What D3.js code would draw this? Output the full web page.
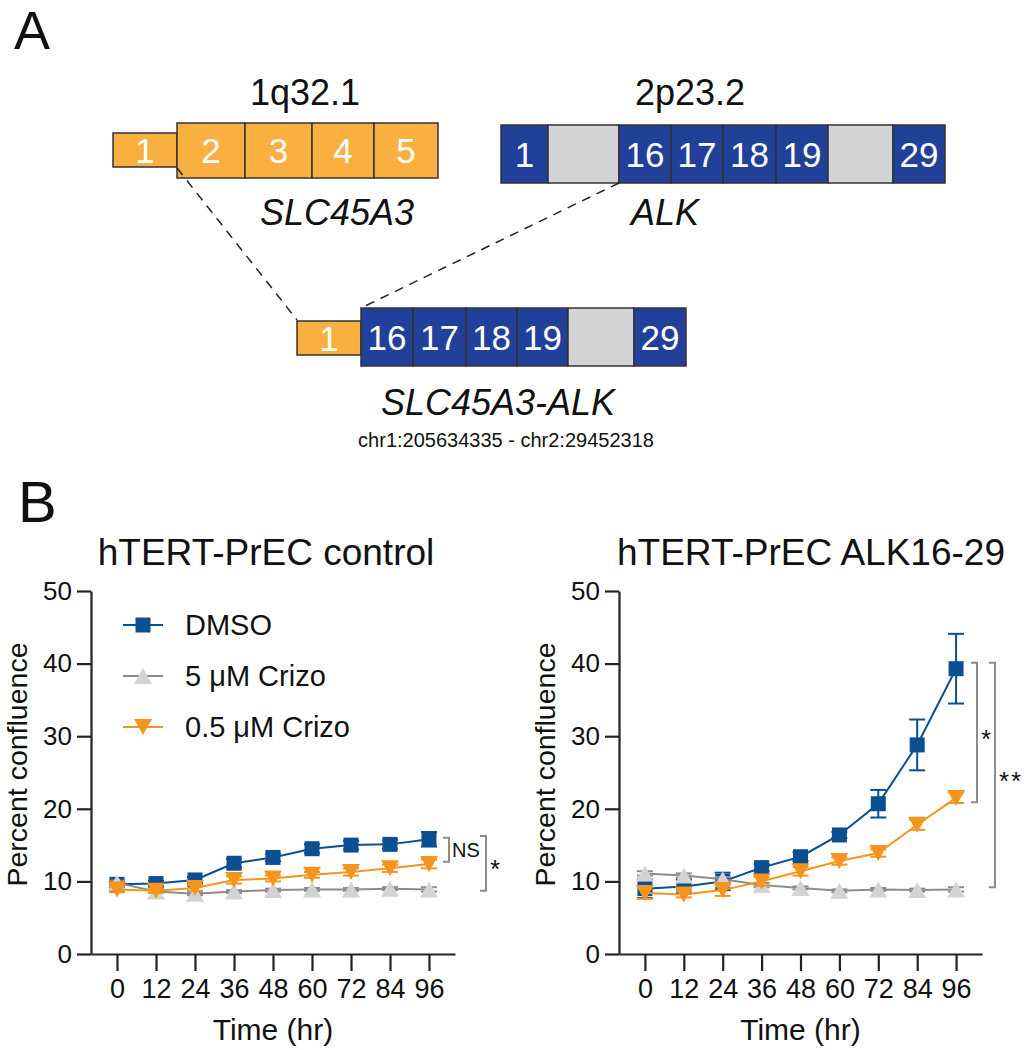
<!DOCTYPE html>
<html>
<head>
<meta charset="utf-8">
<script src="https://cdn.jsdelivr.net/npm/d3@7"></script>
<style>
  html, body { margin: 0; padding: 0; background: #fff; }
  svg text { font-family: "Liberation Sans", Arial, Helvetica, sans-serif; }
</style>
</head>
<body>
<svg id="fig" width="1024" height="1050"></svg>
<script>
// ---- datos ----
const horas = [0, 12, 24, 36, 48, 60, 72, 84, 96];
const ticksY = [0, 10, 20, 30, 40, 50];
const series = ["DMSO", "5 \u03BCM Crizo", "0.5 \u03BCM Crizo"];

// hTERT-PrEC control
const dmsoCtrl = [9.6, 9.7, 10.2, 12.5, 13.3, 14.5, 15.0, 15.1, 15.8];
const dmsoCtrlErr = [0.5, 0.4, 0.4, 0.6, 0.5, 0.6, 0.6, 0.6, 1.0];
const crizo5Ctrl = [9.8, 8.6, 8.3, 8.6, 8.8, 8.9, 8.9, 9.0, 8.9];
const crizo5CtrlErr = [0.3, 0.2, 0.2, 0.2, 0.2, 0.2, 0.2, 0.2, 0.3];
const crizo05Ctrl = [8.9, 8.7, 9.1, 10.2, 10.4, 10.9, 11.3, 11.8, 12.4];
const crizo05CtrlErr = [0.4, 0.3, 0.4, 0.5, 0.4, 0.4, 0.5, 0.5, 0.6];

// hTERT-PrEC ALK16-29
const dmsoAlk = [9.0, 9.3, 10.0, 11.9, 13.4, 16.4, 20.7, 28.8, 39.3];
const dmsoAlkErr = [1.3, 1.0, 1.2, 0.5, 0.6, 0.4, 1.9, 3.5, 4.8];
const crizo5Alk = [11.1, 10.8, 10.3, 9.5, 9.1, 8.7, 8.9, 8.8, 8.9];
const crizo5AlkErr = [0.3, 0.3, 0.3, 0.3, 0.2, 0.2, 0.2, 0.2, 0.3];
const crizo05Alk = [8.4, 8.2, 8.8, 10.0, 11.4, 12.8, 13.9, 17.8, 21.5];
const crizo05AlkErr = [0.8, 0.4, 0.8, 0.6, 0.6, 0.5, 0.5, 0.7, 0.7];

// significancia: [desde, hasta, etiqueta]
const sigCtrl = [[16.0, 12.7, "NS"], [16.25, 8.7, "*"]];
const sigAlk = [[40.1, 20.9, "*"], [40.1, 9.2, "**"]];

// exones
const exonesSlc = ["1", "2", "3", "4", "5"];
const exonesAlk = ["1", "", "16", "17", "18", "19", "", "29"];
const exonesFusion = ["1", "16", "17", "18", "19", "", "29"];

// ---- estilos ----
const colores = {
    dmso: "#0b4f93",
    gris: "#8c8c8c",
    grisClaro: "#d3d3d3",
    naranja: "#f7941d",
    exonNaranja: "#f9b040",
    exonAzul: "#21409a",
    exonGris: "#d1d3d4",
    borde: "#333"
};

const svg = d3.select("#fig");

// ---- panel A ----
const gA = svg.append("g");

gA.append("text").attr("x", 14).attr("y", 49)
    .attr("font-size", 54).attr("fill", "#111").text("A");

function dibujarGen(bordes, etiquetas, tipos, y0, y1, altos) {
    etiquetas.forEach((lab, i) => {
        const alto = altos ? altos[i] : [y0, y1];
        gA.append("rect")
            .attr("x", bordes[i]).attr("y", alto[0])
            .attr("width", bordes[i + 1] - bordes[i])
            .attr("height", alto[1] - alto[0])
            .attr("fill", colores[tipos[i]])
            .attr("stroke", colores.borde)
            .attr("stroke-width", 1.5);
        if (lab) {
            gA.append("text")
                .attr("x", (bordes[i] + bordes[i + 1]) / 2)
                .attr("y", (alto[0] + alto[1]) / 2 + 12.5)
                .attr("text-anchor", "middle")
                .attr("font-size", 35)
                .attr("fill", "#fff")
                .text(lab);
        }
    });
}

// SLC45A3
dibujarGen([113, 177, 245, 312, 374, 438], exonesSlc,
    ["exonNaranja", "exonNaranja", "exonNaranja", "exonNaranja", "exonNaranja"],
    123, 178, [[133, 167], [123, 178], [123, 178], [123, 178], [123, 178]]);

// ALK
dibujarGen([501, 548, 619, 671, 723, 776, 828, 893, 945], exonesAlk,
    ["exonAzul", "exonGris", "exonAzul", "exonAzul", "exonAzul", "exonAzul", "exonGris", "exonAzul"],
    125, 183);

// fusion
dibujarGen([297, 361, 413, 466, 517, 568, 634, 686], exonesFusion,
    ["exonNaranja", "exonAzul", "exonAzul", "exonAzul", "exonAzul", "exonGris", "exonAzul"],
    308, 366, [[321, 355], [308, 366], [308, 366], [308, 366], [308, 366], [308, 366], [308, 366]]);

// lineas punteadas
[[177, 168, 297, 320], [619, 183, 361, 308]].forEach(l => {
    gA.append("line")
        .attr("x1", l[0]).attr("y1", l[1]).attr("x2", l[2]).attr("y2", l[3])
        .attr("stroke", "#222").attr("stroke-width", 1.5)
        .attr("stroke-dasharray", "9,7");
});

const textosA = [
    [305, 105, "1q32.1", "normal", 36],
    [690, 105, "2p23.2", "normal", 36],
    [337, 225, "SLC45A3", "italic", 36],
    [665, 225, "ALK", "italic", 36],
    [498, 415, "SLC45A3-ALK", "italic", 36],
    [506, 447, "chr1:205634335 - chr2:29452318", "normal", 20]
];
textosA.forEach(t => {
    gA.append("text")
        .attr("x", t[0]).attr("y", t[1])
        .attr("text-anchor", "middle")
        .attr("font-style", t[3])
        .attr("font-size", t[4])
        .attr("fill", "#111")
        .text(t[2]);
});

// ---- panel B ----
svg.append("text").attr("x", 18).attr("y", 522)
    .attr("font-size", 58).attr("fill", "#111").text("B");

const yTop = 591, yBase = 954;

function simbolo(tipo) {
    if (tipo === "cuadrado") return "M-7.5,-7.5H7.5V7.5H-7.5Z";
    if (tipo === "arriba") return "M0,-8L9,8L-9,8Z";
    return "M0,8L9,-8L-9,-8Z";
}

function dibujarPanel(cfg) {
    const g = svg.append("g");

    const x = d3.scaleLinear().domain([-8, 104]).range([cfg.x0, cfg.x1]);
    const y = d3.scaleLinear().domain([0, 50]).range([yBase, yTop]);

    // ejes
    const ejeY = g.append("g")
        .attr("transform", `translate(${cfg.x0},0)`)
        .call(d3.axisLeft(y).tickValues(ticksY).tickSize(14).tickPadding(5).tickSizeOuter(0));
    const ejeX = g.append("g")
        .attr("transform", `translate(0,${yBase})`)
        .call(d3.axisBottom(x).tickValues(horas).tickSize(17).tickPadding(8).tickSizeOuter(0));

    [ejeY, ejeX].forEach(e => {
        e.select(".domain").attr("stroke", "#222").attr("stroke-width", 2.2);
        e.selectAll(".tick line").attr("stroke", "#222").attr("stroke-width", 2.2);
        e.selectAll(".tick text").attr("fill", "#111")
            .style("font-family", "'Liberation Sans', Arial, sans-serif");
    });
    ejeY.selectAll(".tick text").attr("font-size", 26);
    ejeX.selectAll(".tick text").attr("font-size", 27);

    // titulos
    g.append("text")
        .attr("x", cfg.tituloX).attr("y", 565)
        .attr("text-anchor", "middle").attr("font-size", 37).attr("fill", "#111")
        .text(cfg.titulo);
    g.append("text")
        .attr("x", (cfg.x0 + cfg.x1) / 2).attr("y", 1040)
        .attr("text-anchor", "middle").attr("font-size", 30).attr("fill", "#111")
        .text("Time (hr)");
    g.append("text")
        .attr("transform", `translate(${cfg.x0 - 64},${(yTop + yBase) / 2 - 8}) rotate(-90)`)
        .attr("text-anchor", "middle").attr("font-size", 28.5).attr("fill", "#111")
        .text("Percent confluence");

    const linea = d3.line().x((d, i) => x(horas[i])).y(d => y(d));

    cfg.datos.forEach(s => {
        const gs = g.append("g");
        // barras de error
        s.valores.forEach((v, i) => {
            const cx = x(horas[i]);
            const e = s.err[i];
            gs.append("line")
                .attr("x1", cx).attr("x2", cx)
                .attr("y1", y(v - e)).attr("y2", y(v + e))
                .attr("stroke", s.linea).attr("stroke-width", 2);
            [v - e, v + e].forEach(w => {
                gs.append("line")
                    .attr("x1", cx - 8).attr("x2", cx + 8)
                    .attr("y1", y(w)).attr("y2", y(w))
                    .attr("stroke", s.linea).attr("stroke-width", 2);
            });
        });
        gs.append("path")
            .datum(s.valores)
            .attr("d", linea)
            .attr("fill", "none")
            .attr("stroke", s.linea)
            .attr("stroke-width", 2);
        gs.selectAll("path.marca")
            .data(s.valores)
            .join("path")
            .attr("class", "marca")
            .attr("transform", (d, i) => `translate(${x(horas[i])},${y(d)})`)
            .attr("d", simbolo(s.simbolo))
            .attr("fill", s.relleno);
    });

    // corchetes de significancia
    cfg.sig.forEach((b, k) => {
        const bx = cfg.corcheteX[k];
        g.append("path")
            .attr("d", `M${bx - 6},${y(b[0])}H${bx}V${y(b[1])}H${bx - 6}`)
            .attr("fill", "none")
            .attr("stroke", colores.gris)
            .attr("stroke-width", 2);
        const medio = (y(b[0]) + y(b[1])) / 2;
        if (b[2] === "NS") {
            g.append("text").attr("x", bx + 3).attr("y", medio + 7)
                .attr("font-size", 20).attr("fill", "#111").text(b[2]);
        } else {
            g.append("text").attr("x", bx + 4).attr("y", medio + 15)
                .attr("font-size", 26).attr("fill", "#111")
                .attr("letter-spacing", 2)
                .text(b[2]);
        }
    });

    return { x, y, g };
}

const izq = dibujarPanel({
    x0: 91, x1: 455, tituloX: 266,
    titulo: "hTERT-PrEC control",
    datos: [
        { valores: dmsoCtrl, err: dmsoCtrlErr, linea: colores.dmso, relleno: colores.dmso, simbolo: "cuadrado" },
        { valores: crizo5Ctrl, err: crizo5CtrlErr, linea: colores.gris, relleno: colores.grisClaro, simbolo: "arriba" },
        { valores: crizo05Ctrl, err: crizo05CtrlErr, linea: colores.naranja, relleno: colores.naranja, simbolo: "abajo" }
    ],
    sig: sigCtrl,
    corcheteX: [449, 486]
});

dibujarPanel({
    x0: 619, x1: 982, tituloX: 811,
    titulo: "hTERT-PrEC ALK16-29",
    datos: [
        { valores: dmsoAlk, err: dmsoAlkErr, linea: colores.dmso, relleno: colores.dmso, simbolo: "cuadrado" },
        { valores: crizo5Alk, err: crizo5AlkErr, linea: colores.gris, relleno: colores.grisClaro, simbolo: "arriba" },
        { valores: crizo05Alk, err: crizo05AlkErr, linea: colores.naranja, relleno: colores.naranja, simbolo: "abajo" }
    ],
    sig: sigAlk,
    corcheteX: [977, 995]
});

// leyenda
const leyenda = izq.g.append("g");
const estilosLeyenda = [
    [colores.dmso, colores.dmso, "cuadrado"],
    [colores.gris, colores.grisClaro, "arriba"],
    [colores.naranja, colores.naranja, "abajo"]
];
series.forEach((nombre, i) => {
    const fy = 625 + i * 51;
    leyenda.append("line")
        .attr("x1", 123).attr("x2", 163).attr("y1", fy).attr("y2", fy)
        .attr("stroke", estilosLeyenda[i][0]).attr("stroke-width", 2);
    leyenda.append("path")
        .attr("transform", `translate(143,${fy})`)
        .attr("d", simbolo(estilosLeyenda[i][2]))
        .attr("fill", estilosLeyenda[i][1]);
    leyenda.append("text")
        .attr("x", 185).attr("y", fy + 10)
        .attr("font-size", 29).attr("fill", "#111")
        .text(nombre);
});
</script>
</body>
</html>
